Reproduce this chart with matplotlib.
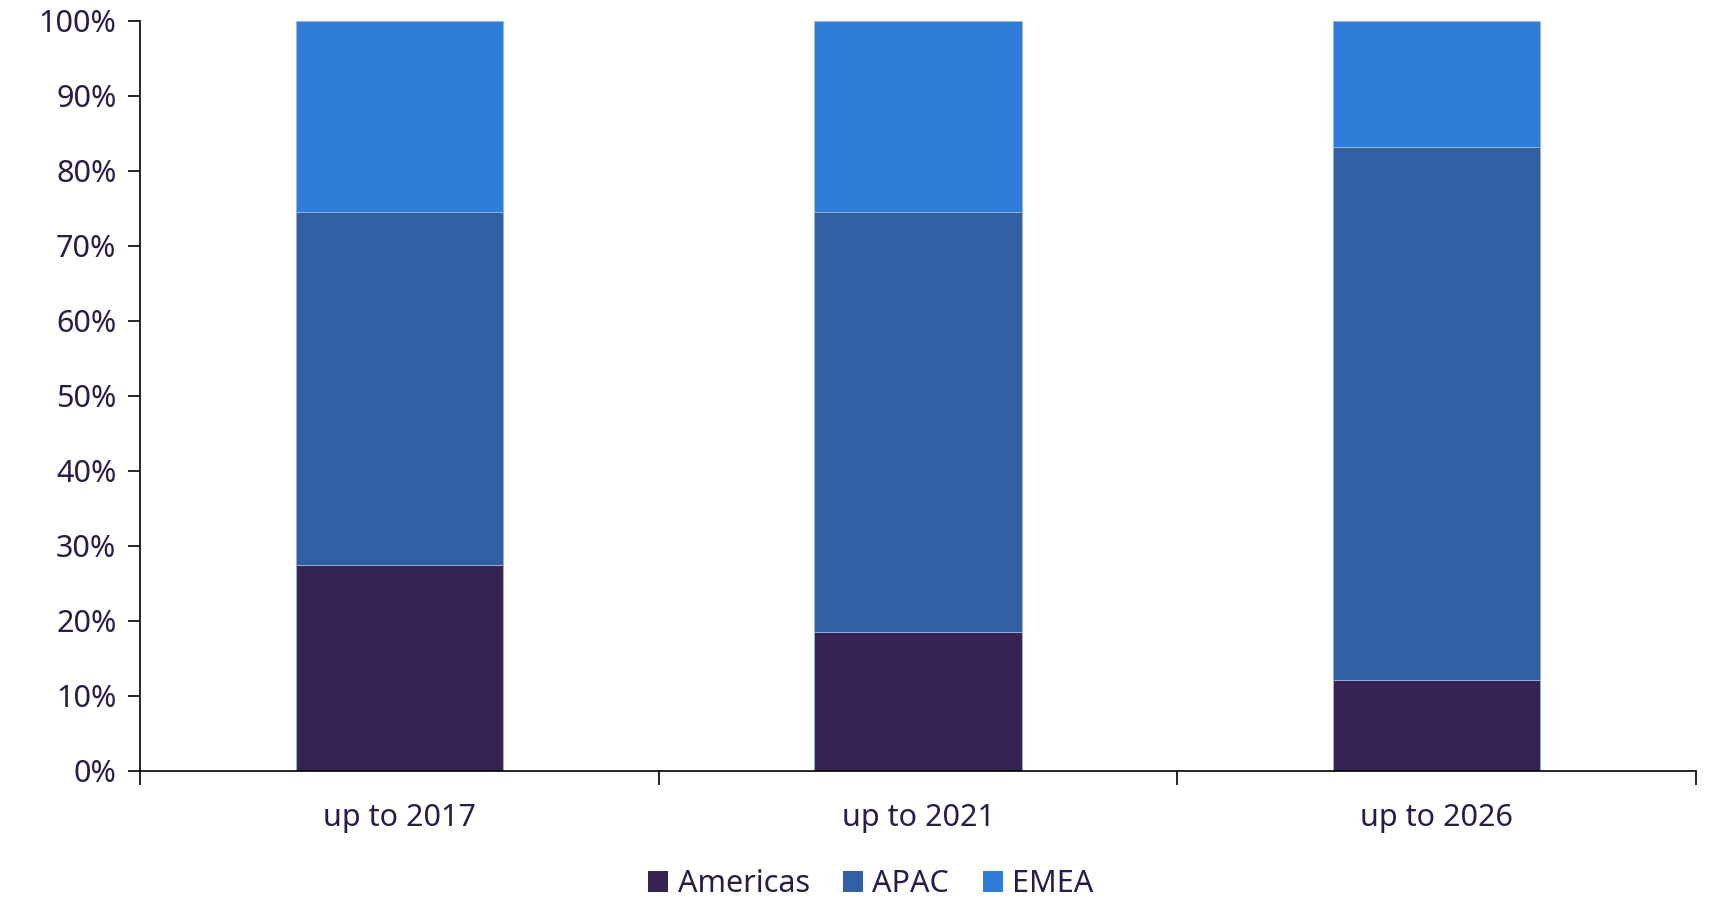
import matplotlib
matplotlib.use("Agg")
import matplotlib.pyplot as plt
import numpy as np
from matplotlib.ticker import FuncFormatter, FixedLocator

categories = ["up to 2017", "up to 2021", "up to 2026"]
americas = [27.4, 18.5, 12.1]
apac = [47.1, 56.0, 71.1]
emea = [25.5, 25.5, 16.8]
series_names = ["Americas", "APAC", "EMEA"]
colors = ["#372352", "#325EA2", "#2E7ED9"]
text_color = "#2B1C47"

plt.rcParams['font.family'] = ['Noto Sans', 'DejaVu Sans']

fig = plt.figure(figsize=(17.14, 8.98), dpi=100)
ax = fig.add_axes([140/1714, 1 - 770.6/898, (1696-140)/1714, (770.6-20.8)/898])

x = np.arange(len(categories))
bottom = np.zeros(len(categories))
for vals, name, c in zip([americas, apac, emea], series_names, colors):
    ax.bar(x, vals, width=0.4, bottom=bottom, color=c, label=name,
           edgecolor="#9fb5d8", linewidth=0.6)
    bottom += np.array(vals)

ax.set_xlim(-0.5, len(categories) - 0.5)
ax.set_ylim(0, 100)
ax.set_yticks(np.arange(0, 101, 10))
ax.yaxis.set_major_formatter(FuncFormatter(lambda v, p: f"{int(v)}%"))
ax.set_xticks(x)
ax.set_xticklabels(categories)
ax.xaxis.set_minor_locator(FixedLocator(np.arange(-0.5, len(categories), 1.0)))

for s in ["top", "right"]:
    ax.spines[s].set_visible(False)
for s in ["left", "bottom"]:
    ax.spines[s].set_color("black")
    ax.spines[s].set_linewidth(1.2)

ax.tick_params(axis="y", which="major", length=9, width=1.2, color="black",
               labelsize=22, labelcolor=text_color, pad=8)
ax.tick_params(axis="x", which="major", length=0, labelsize=22,
               labelcolor=text_color, pad=23)
ax.tick_params(axis="x", which="minor", length=10, width=1.2, color="black",
               direction="out")

leg = fig.legend(loc="lower center", bbox_to_anchor=(0.508, -0.032), ncol=3,
                 frameon=False, fontsize=22, handlelength=0.65, handleheight=0.65,
                 handletextpad=0.3, columnspacing=1.1)
for t in leg.get_texts():
    t.set_color(text_color)
for h in leg.legend_handles:
    h.set_edgecolor("none")

fig.savefig("out.png", dpi=100)
